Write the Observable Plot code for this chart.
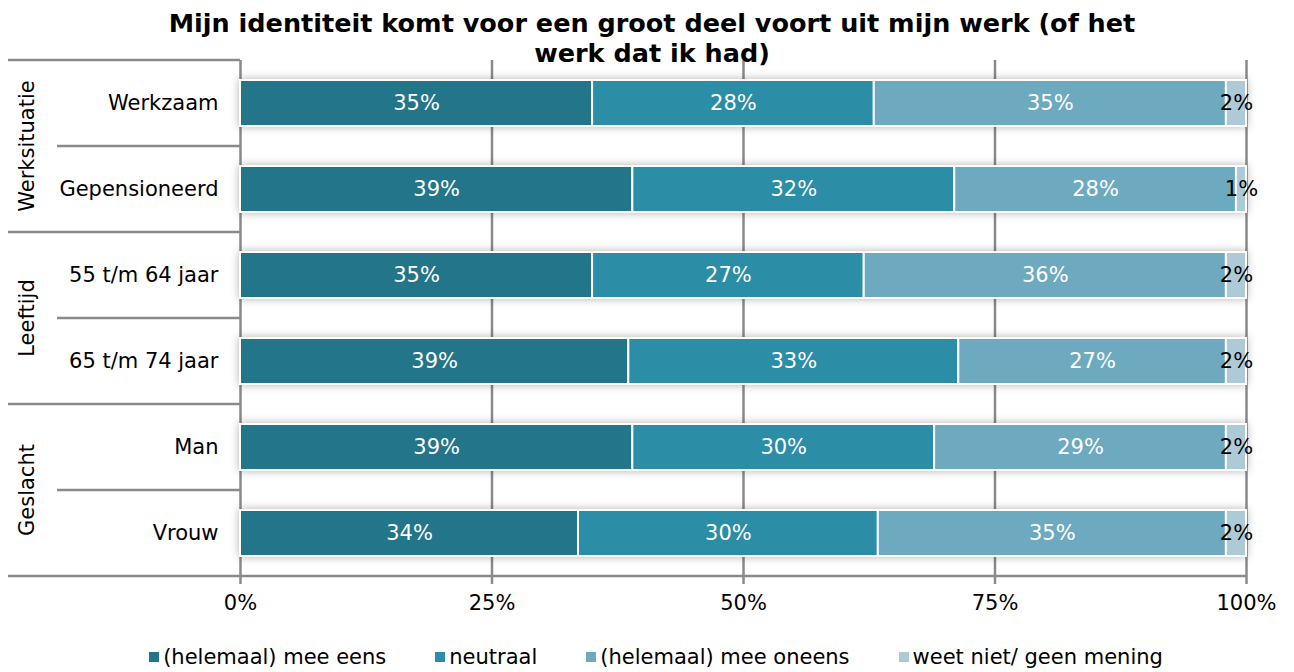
<!DOCTYPE html>
<html>
<head>
<meta charset="utf-8">
<script src="https://cdn.jsdelivr.net/npm/d3@7"></script>
<script src="https://cdn.jsdelivr.net/npm/@observablehq/plot@0.6"></script>
<style>
  body { margin: 0; background: #fff; font-family: "DejaVu Sans", Verdana, sans-serif; }
  #wrap { position: relative; width: 1294px; height: 672px; overflow: hidden; }
  #chart { position: absolute; left: 0; top: 0; }
  #title { position: absolute; left: 10px; top: 8px; width: 1284px; text-align: center;
           font-weight: bold; font-size: 25.5px; line-height: 30px; color: #000; z-index: 2; }
  #legend { position: absolute; left: 0; top: 645px; width: 1294px; box-sizing: border-box;
            padding-left: 18px; display: flex; justify-content: center; gap: 49px;
            font-size: 21px; color: #000; }
  .item { display: flex; align-items: center; gap: 4px; white-space: nowrap; }
  .sw { width: 10px; height: 10px; display: inline-block; }
</style>
</head>
<body>
<div id="wrap">
  <div id="chart"></div>
  <div id="title">Mijn identiteit komt voor een groot deel voort uit mijn werk (of het<br>werk dat ik had)</div>
  <div id="legend"></div>
</div>
<script>
// ---- data ----
const categories = ["Werkzaam", "Gepensioneerd", "55 t/m 64 jaar", "65 t/m 74 jaar", "Man", "Vrouw"];
const groupOf = ["Werksituatie", "Werksituatie", "Leeftijd", "Leeftijd", "Geslacht", "Geslacht"];
const answers = ["(helemaal) mee eens", "neutraal", "(helemaal) mee oneens", "weet niet/ geen mening"];
const meeEens   = [35, 39, 35, 38.6, 39, 33.6];
const neutraal  = [28, 32, 27, 32.8, 30, 29.8];
const meeOneens = [35, 28, 36, 26.6, 29, 34.6];
const weetNiet  = [2, 1, 2, 2, 2, 2];
const xTicks = [0, 25, 50, 75, 100];
const colors = ["#23758a", "#2b8da6", "#6daabf", "#aecad6"];

const seriesValues = [meeEens, neutraal, meeOneens, weetNiet];
const rows = [];
categories.forEach((c, i) => {
  answers.forEach((a, j) => rows.push({category: c, answer: a, value: seriesValues[j][i]}));
});
const lastAnswer = answers[answers.length - 1];
const fmt = v => Math.round(v) + "%";
const font = "DejaVu Sans, Verdana, sans-serif";
const fs = 21;

const plot = Plot.plot({
  width: 1294,
  height: 625,
  marginTop: 60,
  marginBottom: 49,
  marginLeft: 240,
  marginRight: 48,
  style: {fontFamily: font, fontSize: fs + "px", background: "transparent", color: "#000"},
  x: {domain: [0, 100], label: null},
  y: {domain: categories, paddingInner: 0.465, paddingOuter: 0.2325, label: null},
  color: {domain: answers, range: colors},
  marks: [
    Plot.ruleX(xTicks, {stroke: "#8a8a8a", strokeWidth: 2.5, insetBottom: -8}),
    Plot.barX(rows, Plot.stackX({x: "value", y: "category", fill: "answer", stroke: "white", strokeWidth: 2})),
    Plot.text(rows, Plot.stackX({x: "value", y: "category", fill: "white", fontSize: fs,
      text: d => d.answer !== lastAnswer ? fmt(d.value) : null})),
    Plot.text(rows, Plot.stackX({x: "value", y: "category", fill: "black", fontSize: fs,
      text: d => d.answer === lastAnswer ? fmt(d.value) : null})),
    Plot.axisX({ticks: xTicks, tickSize: 0, tickPadding: 19, fontSize: fs, tickFormat: d => d + "%", label: null}),
    Plot.axisY({tickSize: 0, tickPadding: 22, fontSize: fs, label: null})
  ]
});

// shadow around bars
d3.select(plot).selectAll("g[aria-label='bar']")
  .style("filter", "drop-shadow(0px 0px 4px rgba(0,0,0,0.30))");

// left-hand group structure drawn from the plot's own scales
const ys = plot.scale("y");
const xs = plot.scale("x");
const gap = (ys.step - ys.bandwidth) / 2;
const cellTop = c => ys.apply(c) - gap;
const svg = d3.select(plot);
const lines = svg.append("g").attr("stroke", "#8a8a8a").attr("stroke-width", 2.5);
categories.forEach((c, i) => {
  const y = cellTop(c);
  const newGroup = i === 0 || groupOf[i] !== groupOf[i - 1];
  lines.append("line").attr("x1", newGroup ? 8 : 57).attr("x2", xs.apply(0))
    .attr("y1", y).attr("y2", y);
});
const bottomY = cellTop(categories[categories.length - 1]) + ys.step;
lines.append("line").attr("x1", 8).attr("x2", xs.apply(100)).attr("y1", bottomY).attr("y2", bottomY);

const groups = Array.from(new Set(groupOf));
groups.forEach(g => {
  const members = categories.filter((c, i) => groupOf[i] === g);
  const top = cellTop(members[0]);
  const bottom = cellTop(members[members.length - 1]) + ys.step;
  svg.append("text")
    .attr("transform", `translate(34,${(top + bottom) / 2}) rotate(-90)`)
    .attr("text-anchor", "middle")
    .attr("font-size", fs)
    .attr("font-family", font)
    .attr("fill", "#000")
    .text(g);
});

document.getElementById("chart").appendChild(plot);

// legend
const legend = d3.select("#legend");
answers.forEach((a, j) => {
  const it = legend.append("div").attr("class", "item");
  it.append("span").attr("class", "sw").style("background", colors[j]);
  it.append("span").text(a);
});
</script>
</body>
</html>
